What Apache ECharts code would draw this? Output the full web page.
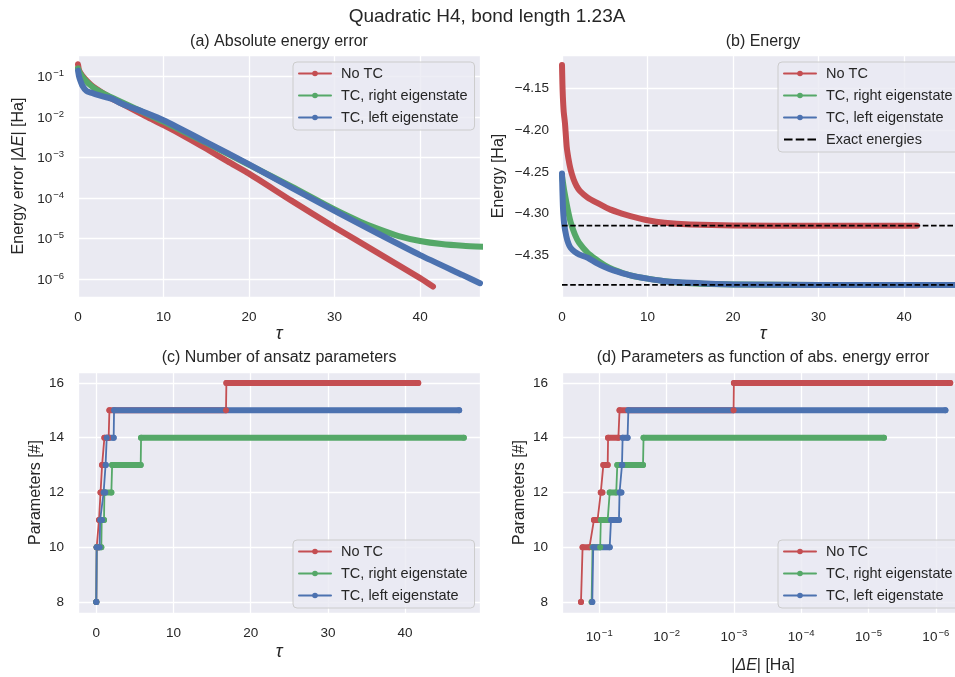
<!DOCTYPE html>
<html><head><meta charset="utf-8">
<script src="https://cdn.jsdelivr.net/npm/echarts@6/dist/echarts.min.js"></script>
<style>html,body{margin:0;padding:0;background:#fff}#c{width:955px;height:677px}</style>
</head><body><div id="c"></div>
<script>
// ---------------- DATA ----------------
const seriesNames = ['No TC', 'TC, right eigenstate', 'TC, left eigenstate'];
const exactName = 'Exact energies';

// (a) absolute energy error vs tau
const tauRedA   = [0, 0.1, 0.25, 0.5, 1, 1.5, 2, 3, 4, 5, 6, 8, 10, 12.5, 15, 17.5, 20, 25, 30, 35, 40, 41.5];
const errRedA   = [0.20, 0.15, 0.126, 0.105, 0.079, 0.063, 0.052, 0.038, 0.028, 0.022, 0.017, 0.0102, 0.0063, 0.0033, 0.00165, 0.0008, 0.0004, 8.5e-5, 1.9e-5, 4.5e-6, 1.05e-6, 6.5e-7];
const tauGreenA = [0, 0.1, 0.25, 0.5, 1, 1.5, 2, 3, 4, 5, 6, 8, 10, 15, 20, 25, 30, 33, 35, 37.5, 40, 42.5, 45, 47.6];
const errGreenA = [0.16, 0.14, 0.12, 0.1, 0.075, 0.06, 0.05, 0.038, 0.03, 0.024, 0.019, 0.012, 0.0077, 0.0023, 0.00066, 0.00019, 5.2e-5, 2.6e-5, 1.75e-5, 1.15e-5, 8.7e-6, 7.3e-6, 6.6e-6, 6.2e-6];
const tauBlueA  = [0, 0.1, 0.2, 0.5, 1, 1.5, 2, 3, 4, 5, 6, 8, 10, 15, 20, 25, 30, 35, 40, 45, 47];
const errBlueA  = [0.14, 0.105, 0.088, 0.06, 0.044, 0.040, 0.037, 0.032, 0.028, 0.022, 0.018, 0.0125, 0.0083, 0.0024, 0.00068, 0.000178, 4.8e-5, 1.35e-5, 3.9e-6, 1.25e-6, 7.9e-7];

// (b) energy vs tau
const tauRedB     = [0, 0.05, 0.1, 0.2, 0.35, 0.55, 0.75, 1, 1.35, 1.7, 2.1, 3, 3.7, 5, 5.6, 7, 8, 10, 12, 15, 20, 30, 41.5];
const energyRedB  = [-4.122, -4.145, -4.16, -4.178, -4.192, -4.220, -4.234, -4.247, -4.259, -4.267, -4.273, -4.281, -4.285, -4.292, -4.295, -4.300, -4.303, -4.308, -4.311, -4.313, -4.3143, -4.3145, -4.3145];
const tauGreenB   = [0, 0.1, 0.25, 0.5, 0.75, 1, 1.5, 2, 3, 4, 5, 6, 8, 10, 12, 15, 20, 30, 47.6];
const energyGreenB= [-4.255, -4.262, -4.272, -4.286, -4.299, -4.31, -4.325, -4.335, -4.347, -4.355, -4.362, -4.367, -4.374, -4.378, -4.381, -4.3835, -4.385, -4.3855, -4.3855];
const tauBlueB    = [0, 0.1, 0.25, 0.5, 0.75, 1, 1.5, 2, 3, 4, 5, 6, 8, 10, 12, 15, 20, 30, 47];
const energyBlueB = [-4.252, -4.29, -4.312, -4.327, -4.336, -4.341, -4.346, -4.349, -4.353, -4.359, -4.364, -4.368, -4.374, -4.378, -4.381, -4.383, -4.385, -4.3855, -4.3855];
const exactEnergies = [-4.3145, -4.3855];

// (c) number of parameters vs tau (levels with start/end tau)
const levelsRed   = [8, 10, 11, 12, 13, 14, 15, 16];
const tauStartRed = [0, 0.05, 0.35, 0.55, 0.75, 1.05, 1.7, 16.85];
const tauEndRed   = [0, 0.3, 0.5, 0.7, 1.0, 1.6, 16.8, 41.7];
const levelsGreen   = [8, 10, 11, 12, 13, 14];
const tauStartGreen = [0, 0.05, 0.7, 1.05, 2.05, 5.8];
const tauEndGreen   = [0, 0.65, 1.0, 1.95, 5.75, 47.6];
const levelsBlue   = [8, 10, 11, 12, 13, 14, 15];
const tauStartBlue = [0, 0.05, 0.5, 0.95, 1.2, 1.35, 2.3];
const tauEndBlue   = [0, 0.43, 0.75, 1.15, 1.25, 2.25, 47.0];

// (d) number of parameters vs |dE| (start/end error of each level)
const errStartRed = [0.187, 0.177, 0.12, 0.095, 0.087, 0.074, 0.05, 0.001];
const errEndRed   = [0.187, 0.14, 0.106, 0.09, 0.075, 0.052, 0.00101, 6.1e-7];
const errStartGreen = [0.13, 0.126, 0.095, 0.07, 0.054, 0.022];
const errEndGreen   = [0.13, 0.097, 0.075, 0.056, 0.0224, 5.9e-6];
const errStartBlue = [0.127, 0.123, 0.067, 0.05, 0.046, 0.045, 0.037];
const errEndBlue   = [0.127, 0.07, 0.051, 0.047, 0.0455, 0.038, 7.2e-7];

// ---------------- STYLE ----------------
const FONT = '"Liberation Sans", Arial, sans-serif';
const TXT = '#262626';
const RED = '#C44E52', GREEN = '#55A868', BLUE = '#4C72B0';
const BG = '#EAEAF2';

function zip(a, b) { return a.map((v, i) => [v, b[i]]); }
function stepThin(xs, xe, lv) { const o = []; lv.forEach((l, i) => { o.push([xs[i], l]); o.push([xe[i], l]); }); return o; }
function stepThick(xs, xe, lv) { const o = []; lv.forEach((l, i) => { if (i) o.push(['-', '-']); o.push([xs[i], l]); o.push([xe[i], l]); }); return o; }

function curve(name, color, idx, data) {
  return { type: 'line', name, xAxisIndex: idx, yAxisIndex: idx, data, symbol: 'circle', showSymbol: false, smooth: 0.2,
    lineStyle: { width: 6, color, cap: 'round', join: 'round' }, itemStyle: { color }, emphasis: { disabled: true }, silent: true };
}
function thin(name, color, idx, data) {
  return { type: 'line', name, xAxisIndex: idx, yAxisIndex: idx, data, symbol: 'circle', showSymbol: false,
    lineStyle: { width: 1.8, color }, itemStyle: { color }, emphasis: { disabled: true }, silent: true };
}
function thick(name, color, idx, data) {
  return { type: 'line', name, xAxisIndex: idx, yAxisIndex: idx, data, symbol: 'circle', symbolSize: 6, showSymbol: true, showAllSymbol: true,
    connectNulls: false, lineStyle: { width: 6, color, cap: 'round' }, itemStyle: { color, borderWidth: 0 }, emphasis: { disabled: true }, silent: true };
}

const tickFont = { color: TXT, fontSize: 13.5, fontFamily: FONT };
const logRich = {
  b: { fontSize: 13.5, color: TXT, fontFamily: FONT, lineHeight: 16, padding: [7, 0, 0, 0], verticalAlign: 'bottom' },
  s: { fontSize: 9.5, color: TXT, fontFamily: FONT, lineHeight: 12, padding: [0, 0, 0, 1], verticalAlign: 'top' }
};
function logFmt(v) { const e = Math.round(Math.log10(v)); return '{b|10}{s|\u2212' + (-e) + '}'; }

const nameStyle = { color: TXT, fontSize: 16, fontFamily: FONT,
  rich: { i: { fontStyle: 'italic', fontSize: 16, color: TXT, fontFamily: FONT } } };
const tauStyle = { color: TXT, fontSize: 18, fontFamily: FONT, fontStyle: 'italic' };

function baseAxis(gi, extra) {
  return Object.assign({ gridIndex: gi, axisLine: { show: false }, axisTick: { show: false },
    splitLine: { show: true, lineStyle: { color: '#ffffff', width: 1.3 } },
    axisLabel: Object.assign({ showMinLabel: false, showMaxLabel: false, margin: 13 }, tickFont),
    nameLocation: 'middle' }, extra);
}

function legend(left, top, data) {
  return { show: true, orient: 'vertical', left, top, data,
    itemWidth: 32, itemHeight: 7, itemGap: 7, padding: [4, 7, 5, 5],
    backgroundColor: 'rgba(234,234,242,0.8)', borderColor: '#cccccc', borderWidth: 1, borderRadius: 4,
    textStyle: { color: TXT, fontSize: 14.5, fontFamily: FONT, lineHeight: 14, padding: [0, 0, 0, 5] },
    lineStyle: { width: 2 }, itemStyle: { borderWidth: 0 }, selectedMode: false, z: 10 };
}

const chart = echarts.init(document.getElementById('c'), null, { renderer: 'canvas' });

const gridBase = { show: true, backgroundColor: BG, borderWidth: 0, containLabel: false, outerBoundsMode: 'none' };
const tauLabel = Object.assign({ showMinLabel: true, showMaxLabel: false, margin: 13 }, tickFont);
const option = {
  animation: false,
  backgroundColor: '#ffffff',
  textStyle: { fontFamily: FONT },
  grid: [
    Object.assign({ left: 78, top: 55, width: 402, height: 242 }, gridBase),
    Object.assign({ left: 562, top: 55, width: 402, height: 242 }, gridBase),
    Object.assign({ left: 78, top: 372, width: 402, height: 241 }, gridBase),
    Object.assign({ left: 562, top: 372, width: 402, height: 241 }, gridBase)
  ],
  xAxis: [
    baseAxis(0, { type: 'value', min: 0, max: 47, interval: 10, name: 'τ', nameGap: 28, nameTextStyle: tauStyle, axisLabel: tauLabel }),
    baseAxis(1, { type: 'value', min: 0, max: 47, interval: 10, name: 'τ', nameGap: 28, nameTextStyle: tauStyle, axisLabel: tauLabel }),
    baseAxis(2, { type: 'value', min: -2.37, max: 49.7, name: 'τ', nameGap: 30, nameTextStyle: tauStyle }),
    baseAxis(3, { type: 'log', min: 3.81e-7, max: 0.358, inverse: true, name: '|{i|ΔE}| [Ha]', nameGap: 45, nameTextStyle: nameStyle,
      axisLabel: { showMinLabel: false, showMaxLabel: false, margin: 15, formatter: logFmt, rich: logRich } })
  ],
  yAxis: [
    baseAxis(0, { type: 'log', min: 3.6e-7, max: 0.34, name: 'Energy error |{i|ΔE}| [Ha]', nameGap: 51, nameTextStyle: nameStyle,
      axisLabel: { showMinLabel: false, showMaxLabel: false, margin: 14, formatter: logFmt, rich: logRich } }),
    baseAxis(1, { type: 'value', min: -4.40, max: -4.11, interval: 0.05, name: 'Energy [Ha]', nameGap: 55, nameTextStyle: nameStyle,
      axisLabel: Object.assign({ showMinLabel: false, showMaxLabel: false, margin: 13, formatter: v => v.toFixed(2).replace('-', '\u2212') }, tickFont) }),
    baseAxis(2, { type: 'value', min: 7.6, max: 16.4, name: 'Parameters [#]', nameGap: 34, nameTextStyle: nameStyle,
      axisLabel: Object.assign({ showMinLabel: false, showMaxLabel: false, margin: 14 }, tickFont) }),
    baseAxis(3, { type: 'value', min: 7.6, max: 16.4, name: 'Parameters [#]', nameGap: 34, nameTextStyle: nameStyle,
      axisLabel: Object.assign({ showMinLabel: false, showMaxLabel: false, margin: 14 }, tickFont) })
  ],
  legend: [
    legend(293, 62, seriesNames),
    legend(778, 62, seriesNames.concat([{ name: exactName, icon: 'path://M0,0h8v2h-8zM11,0h8v2h-8zM22,0h8v2h-8z', itemStyle: { color: '#000', borderWidth: 0 } }])),
    legend(293, 540, seriesNames),
    legend(778, 540, seriesNames)
  ],
  graphic: [
    { type: 'text', x: 487, y: 17, style: { text: 'Quadratic H4, bond length 1.23A', fill: TXT, font: '19px ' + FONT, align: 'center', verticalAlign: 'middle' } },
    { type: 'text', x: 279, y: 42, style: { text: '(a) Absolute energy error', fill: TXT, font: '16px ' + FONT, align: 'center', verticalAlign: 'middle' } },
    { type: 'text', x: 763, y: 42, style: { text: '(b) Energy', fill: TXT, font: '16px ' + FONT, align: 'center', verticalAlign: 'middle' } },
    { type: 'text', x: 279, y: 358, style: { text: '(c) Number of ansatz parameters', fill: TXT, font: '16px ' + FONT, align: 'center', verticalAlign: 'middle' } },
    { type: 'text', x: 763, y: 358, style: { text: '(d) Parameters as function of abs. energy error', fill: TXT, font: '16px ' + FONT, align: 'center', verticalAlign: 'middle' } }
  ],
  series: [
    // (a)
    curve(seriesNames[0], RED, 0, zip(tauRedA, errRedA)),
    curve(seriesNames[1], GREEN, 0, zip(tauGreenA, errGreenA)),
    curve(seriesNames[2], BLUE, 0, zip(tauBlueA, errBlueA)),
    // (b)
    curve(seriesNames[0], RED, 1, zip(tauRedB, energyRedB)),
    curve(seriesNames[1], GREEN, 1, zip(tauGreenB, energyGreenB)),
    curve(seriesNames[2], BLUE, 1, zip(tauBlueB, energyBlueB)),
    ...exactEnergies.map(e => ({ type: 'line', name: exactName, xAxisIndex: 1, yAxisIndex: 1, data: [[0, e], [47, e]], symbol: 'none',
      lineStyle: { color: '#000', width: 1.8, type: [5.6, 2.6] }, itemStyle: { color: '#000' }, emphasis: { disabled: true }, silent: true, z: 3 })),
    // (c)
    thin(seriesNames[0], RED, 2, stepThin(tauStartRed, tauEndRed, levelsRed)),
    thick(seriesNames[0], RED, 2, stepThick(tauStartRed, tauEndRed, levelsRed)),
    thin(seriesNames[1], GREEN, 2, stepThin(tauStartGreen, tauEndGreen, levelsGreen)),
    thick(seriesNames[1], GREEN, 2, stepThick(tauStartGreen, tauEndGreen, levelsGreen)),
    thin(seriesNames[2], BLUE, 2, stepThin(tauStartBlue, tauEndBlue, levelsBlue)),
    thick(seriesNames[2], BLUE, 2, stepThick(tauStartBlue, tauEndBlue, levelsBlue)),
    // (d)
    thin(seriesNames[0], RED, 3, stepThin(errStartRed, errEndRed, levelsRed)),
    thick(seriesNames[0], RED, 3, stepThick(errStartRed, errEndRed, levelsRed)),
    thin(seriesNames[1], GREEN, 3, stepThin(errStartGreen, errEndGreen, levelsGreen)),
    thick(seriesNames[1], GREEN, 3, stepThick(errStartGreen, errEndGreen, levelsGreen)),
    thin(seriesNames[2], BLUE, 3, stepThin(errStartBlue, errEndBlue, levelsBlue)),
    thick(seriesNames[2], BLUE, 3, stepThick(errStartBlue, errEndBlue, levelsBlue))
  ]
};
chart.setOption(option);
</script>
</body></html>
